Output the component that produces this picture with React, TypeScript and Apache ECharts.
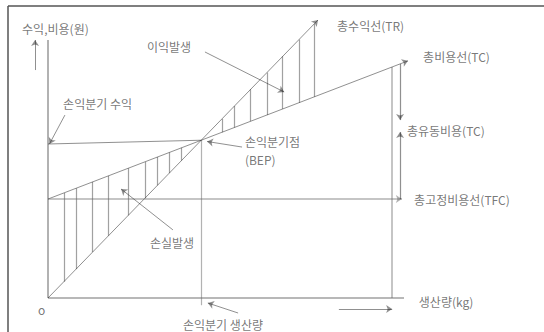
import React, { useEffect, useRef } from "react";
import * as echarts from "echarts";

// ---- data (quantity Q on x, money V on y) ----
const X_MAX = 100;
const Y_MAX = 100;
const trQ = [0, 75];
const trV = [0, 100];
const tcQ = [0, 100];
const tcV = [35.6, 85.3];
const tfcV = 35.6;
const tfcEndQ = 98.3;
const lossHatchQ = [4.4, 7.8, 12.4, 16.8, 22.3, 26.9, 30.4, 33.7, 37.1];
const profitHatchQ = [48.3, 51.8, 56.3, 60.8, 65.2, 69.7, 74.0];
const bepRevenueStartV = 55.4;
const xAxisEndQ = 98.9;
const yAxisEndV = 92.8;
const capacityQ = 95.6;
const splitQ = 97.8;
const variableArrowEndV = 64;
const fixedArrowEndV = 59.7;

const labelTexts = [
  "수익,비용(원)",
  "손익분기 수익",
  "이익발생",
  "총수익선(TR)",
  "총비용선(TC)",
  "총유동비용(TC)",
  "손익분기점",
  "(BEP)",
  "총고정비용선(TFC)",
  "손실발생",
  "o",
  "생산량(kg)",
  "손익분기 생산량",
];
const labelQ = [-7.2, 4.2, 27.5, 80.3, 104.2, 99.7, 54.7, 54.7, 101.7, 28.3, -2.8, 103.0, 37.5];
const labelV = [97.1, 70.1, 90.3, 98.2, 86.7, 60.4, 56.3, 49.8, 35.6, 19.8, -4.3, -1.4, -9.7];

// pointer arrows [q1, v1, q2, v2]
const pointerArrows = [
  [43.6, 88.5, 65.6, 74.1], // 이익발생
  [4.7, 65.8, 0.4, 55.4], // 손익분기 수익
  [53.9, 54.3, 44.2, 56.3], // 손익분기점
  [34.7, 24.5, 20.3, 39.2], // 손실발생
  [52.8, -5.4, 44.4, -1.8], // 손익분기 생산량
  [-3.6, 82, -3.6, 92.8], // up arrow
  [80.8, -4.0, 95.6, -4.0], // right arrow
];

const at = (qs: number[], vs: number[], q: number) =>
  vs[0] + ((vs[1] - vs[0]) * (q - qs[0])) / (qs[1] - qs[0]);

export default function App() {
  const ref = useRef<HTMLDivElement>(null);
  useEffect(() => {
    if (!ref.current) return;
    const chart = echarts.init(ref.current, null, { renderer: "svg" });

    const trSlope = (trV[1] - trV[0]) / (trQ[1] - trQ[0]);
    const tcSlope = (tcV[1] - tcV[0]) / (tcQ[1] - tcQ[0]);
    const bepQ = (tcV[0] - trV[0]) / (trSlope - tcSlope);
    const bepV = at(trQ, trV, bepQ);

    const dark = "#222";
    const gray = "#666";
    const thin = { color: dark, width: 1 };

    const arrowData: any[] = [
      { coords: [[trQ[0], trV[0]], [trQ[1], trV[1]]], lineStyle: thin },
      { coords: [[tcQ[0], tcV[0]], [tcQ[1], tcV[1]]], lineStyle: thin },
      { coords: [[0, tfcV], [tfcEndQ, tfcV]], lineStyle: { color: gray, width: 1.5 } },
      {
        coords: [[splitQ, at(tcQ, tcV, splitQ)], [splitQ, variableArrowEndV]],
        lineStyle: { color: dark, width: 1.2 },
      },
      { coords: [[splitQ, tfcV], [splitQ, fixedArrowEndV]], lineStyle: { color: dark, width: 1.2 } },
      ...pointerArrows.map((p) => ({
        coords: [[p[0], p[1]], [p[2], p[3]]],
        lineStyle: { color: dark, width: 1 },
      })),
    ];

    const plainData: any[] = [
      { coords: [[0, 0], [0, yAxisEndV]], lineStyle: { color: gray, width: 2 } },
      { coords: [[0, 0], [xAxisEndQ, 0]], lineStyle: { color: "#444", width: 1.5 } },
      { coords: [[capacityQ, 0], [capacityQ, at(tcQ, tcV, capacityQ)]], lineStyle: { color: gray, width: 1.5 } },
      { coords: [[bepQ, -2.6], [bepQ, bepV]], lineStyle: { color: gray, width: 1.2 } },
      { coords: [[0, bepRevenueStartV], [bepQ, bepV]], lineStyle: { color: dark, width: 1 } },
      ...lossHatchQ.map((q) => ({
        coords: [[q, at(tcQ, tcV, q)], [q, at(trQ, trV, q)]],
        lineStyle: { color: "#444", width: 1.2 },
      })),
      ...profitHatchQ.map((q) => ({
        coords: [[q, at(tcQ, tcV, q)], [q, at(trQ, trV, q)]],
        lineStyle: { color: "#444", width: 1.2 },
      })),
    ];

    chart.setOption({
      animation: false,
      grid: { left: 48, top: 20, width: 360, height: 278 },
      xAxis: { type: "value", min: 0, max: X_MAX, show: false },
      yAxis: { type: "value", min: 0, max: Y_MAX, show: false },
      graphic: [
        { type: "line", shape: { x1: 8, y1: 6, x2: 8, y2: 332 }, style: { stroke: "#555", lineWidth: 1.5 } },
        { type: "line", shape: { x1: 8, y1: 6, x2: 544, y2: 6 }, style: { stroke: "#555", lineWidth: 1.5 } },
      ],
      series: [
        {
          type: "lines",
          coordinateSystem: "cartesian2d",
          clip: false,
          symbol: "none",
          data: plainData,
          silent: true,
        },
        {
          type: "lines",
          coordinateSystem: "cartesian2d",
          clip: false,
          symbol: ["none", "arrow"],
          symbolSize: 6,
          data: arrowData,
          silent: true,
        },
        {
          type: "scatter",
          clip: false,
          symbolSize: 0,
          silent: true,
          data: labelTexts.map((t, i) => ({ name: t, value: [labelQ[i], labelV[i]] })),
          label: {
            show: true,
            position: [0, 0],
            align: "left",
            verticalAlign: "middle",
            formatter: "{b}",
            color: "#555",
            fontSize: 12,
            lineHeight: 14,
            fontFamily: "'Noto Sans CJK KR', 'Noto Sans', sans-serif",
          },
        },
      ],
    });
    return () => chart.dispose();
  }, []);
  return (
    <div
      ref={ref}
      style={{ position: "fixed", left: 0, top: 0, width: 544, height: 332, background: "#fff" }}
    />
  );
}
